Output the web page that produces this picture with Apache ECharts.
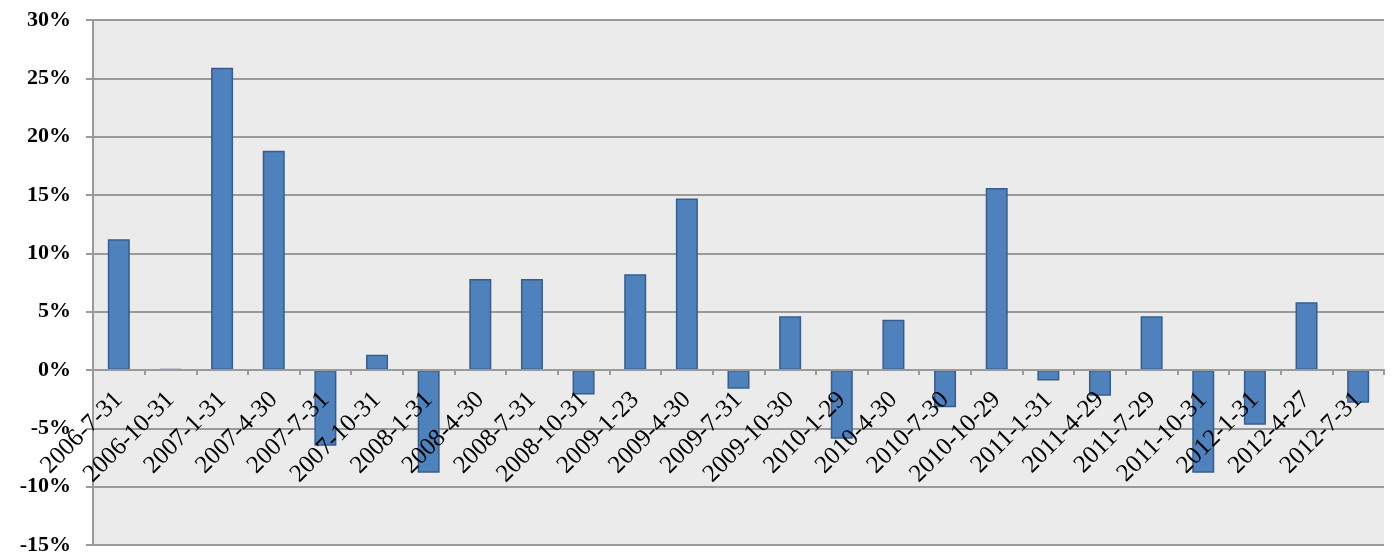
<!DOCTYPE html>
<html><head><meta charset="utf-8">
<script src="https://cdn.jsdelivr.net/npm/echarts@6/dist/echarts.min.js"></script>
<style>html,body{margin:0;padding:0;background:#fff}#c{width:1392px;height:558px}</style>
</head><body><div id="c"></div>
<script>
var categories = ['2006-7-31','2006-10-31','2007-1-31','2007-4-30','2007-7-31','2007-10-31','2008-1-31','2008-4-30','2008-7-31','2008-10-31','2009-1-23','2009-4-30','2009-7-31','2009-10-30','2010-1-29','2010-4-30','2010-7-30','2010-10-29','2011-1-31','2011-4-29','2011-7-29','2011-10-31','2012-1-31','2012-4-27','2012-7-31'];
var values = [11.2, 0.1, 25.9, 18.8, -6.5, 1.3, -8.8, 7.8, 7.8, -2.1, 8.2, 14.7, -1.6, 4.6, -5.9, 4.3, -3.2, 15.6, -0.9, -2.2, 4.6, -8.8, -4.7, 5.8, -2.8];
var yTicks = {min: -15, max: 30, interval: 5};
var serif = "'Liberation Serif', 'Times New Roman', serif";

var chart = echarts.init(document.getElementById('c'));
chart.setOption({
  animation: false,
  grid: {left: 93, right: 8, top: 20, bottom: 13, show: true, backgroundColor: '#EBEBEB', borderWidth: 0, containLabel: false, outerBoundsMode: 'none'},
  xAxis: {
    type: 'category', data: categories, position: 'bottom', offset: -175, z: 10,
    axisLine: {onZero: false, lineStyle: {color: '#9A9A9A', width: 2}},
    axisTick: {show: true, alignWithLabel: false, length: 5, lineStyle: {color: '#9A9A9A', width: 2}},
    axisLabel: {rotate: 45, interval: 0, margin: 26, color: '#000', fontFamily: serif, fontSize: 25}
  },
  yAxis: {
    type: 'value', min: yTicks.min, max: yTicks.max, interval: yTicks.interval,
    axisLine: {show: true, lineStyle: {color: '#9A9A9A', width: 2}},
    axisTick: {show: true, length: 7, lineStyle: {color: '#9A9A9A', width: 2}},
    splitLine: {lineStyle: {color: '#9A9A9A', width: 2}},
    axisLabel: {formatter: '{value}%', margin: 22, color: '#000', fontFamily: serif, fontSize: 22, fontWeight: 'bold'}
  },
  series: [{
    type: 'bar', data: values, barWidth: 22, z: 1,
    itemStyle: {color: '#4F81BD', borderColor: '#385D8A', borderWidth: 1.5}
  }]
});
</script></body></html>
